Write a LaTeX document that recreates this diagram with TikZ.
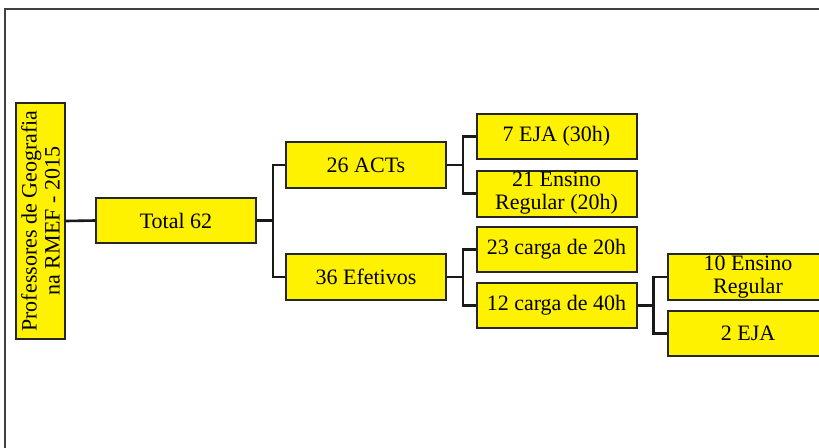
\documentclass[tikz,border=0pt]{standalone}
\usepackage{fontspec}
\setmainfont{Liberation Serif}
\begin{document}
\begin{tikzpicture}[x=1pt,y=-1pt,
  box/.style={draw=black!85, fill=yellow, line width=2pt, inner sep=0pt,
    minimum width=160pt, minimum height=45pt, align=center,
    font=\fontsize{22}{23}\selectfont},
  link/.style={draw=black!90, line width=2.6pt}]
\useasboundingbox (0,0) rectangle (819,447);
\clip (0,0) rectangle (819,447);
\fill[white] (0,0) rectangle (819,447);
\draw[line width=2pt, black!75] (5,460) -- (5,9) -- (830,9);

\node[box, rotate=90, minimum width=236pt, minimum height=49pt] (prof) at (40.5,221) {Professores de Geografia\\na RMEF - 2015};
\node[box] (total) at (176,220.5) {Total 62};
\node[box, minimum height=46pt] (acts) at (366,165) {26 ACTs};
\node[box, minimum height=46pt] (efet) at (366,277) {36 Efetivos};
\node[box] (eja7) at (556.5,136.5) {7 EJA (30h)};
\node[box, minimum height=46pt] (ens21) at (556.5,193.5) {21 Ensino\\Regular (20h)};
\node[box] (c20) at (556.5,249.5) {23 carga de 20h};
\node[box] (c40) at (556.5,305.5) {12 carga de 40h};
\node[box, minimum height=46pt] (ens10) at (748,277) {10 Ensino\\Regular};
\node[box] (eja2) at (748,333.5) {2 EJA};

\draw[link] (prof.south) -- (total.west);
\draw[link] (total.east) -- ++(16,0) coordinate (b1);
\draw[link] (b1) |- (acts.west);
\draw[link] (b1) |- (efet.west);
\draw[link] (acts.east) -- ++(16,0) coordinate (b2);
\draw[link] (b2) |- (eja7.west);
\draw[link] (b2) |- (ens21.west);
\draw[link] (efet.east) -- ++(16,0) coordinate (b3);
\draw[link] (b3) |- (c20.west);
\draw[link] (b3) |- (c40.west);
\draw[link] (c40.east) -- ++(16,0) coordinate (b4);
\draw[link] (b4) |- (ens10.west);
\draw[link] (b4) |- (eja2.west);
\end{tikzpicture}
\end{document}
